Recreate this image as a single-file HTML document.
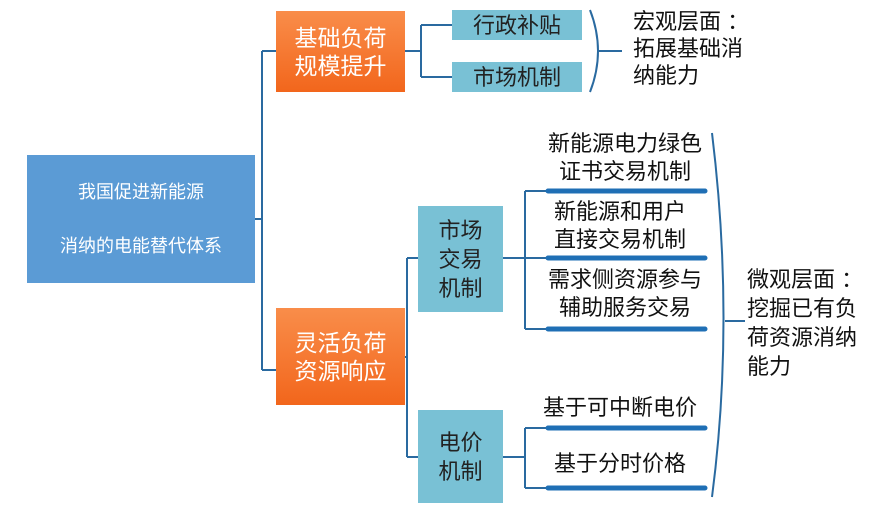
<!DOCTYPE html>
<html><head><meta charset="utf-8"><style>
body{margin:0;width:874px;height:508px;background:#fff;position:relative;overflow:hidden;font-family:"Liberation Sans","Noto Sans CJK SC",sans-serif}
.b{position:absolute;display:flex;align-items:center;justify-content:center;text-align:center}
.o{background:linear-gradient(#f98d4a,#f2661c);color:#fff;font-size:23px;line-height:28px}
.t{background:#79c1d5;color:#222;font-size:22px;line-height:29px}
.l{position:absolute;font-size:22px;line-height:28px;color:#111;text-align:center;white-space:nowrap}
</style></head><body>
<svg width="874" height="508" style="position:absolute;left:0;top:0" fill="none" stroke="#2a6aa0" stroke-width="2">
<path d="M255 219H262M262 51V370M262 51H276M262 370H276"/>
<path d="M405 51H421M421 25V77M421 25H452M421 77H452"/>
<path d="M590 10Q606 51 590 92M599 51H622"/>
<path d="M405 357H407M407 258V457M407 258H418M407 457H418"/>
<path d="M503 258H525M525 191V329M525 191H546M525 258H546M525 329H546"/>
<path d="M503 457H525M525 428V488M525 428H546M525 488H546"/>
<path d="M712 133Q735 321 712 497M725 321H745"/>
<g stroke="#1f6fb5" stroke-width="5" stroke-linecap="round">
<path d="M548 191H705M548 258H705M548 329H705M548 428H705M548 488H705"/>
</g>
</svg>
<div class="b" style="left:27px;top:155px;width:228px;height:128px;background:#5b9bd5;color:#fff;font-size:18px;line-height:54px;flex-direction:column">我国促进新能源<br>消纳的电能替代体系</div>
<div class="b o" style="left:276px;top:11px;width:129px;height:81px">基础负荷<br>规模提升</div>
<div class="b o" style="left:276px;top:308px;width:129px;height:97px">灵活负荷<br>资源响应</div>
<div class="b t" style="left:452px;top:10px;width:130px;height:30px">行政补贴</div>
<div class="b t" style="left:452px;top:62px;width:130px;height:30px">市场机制</div>
<div class="b t" style="left:418px;top:206px;width:85px;height:106px">市场<br>交易<br>机制</div>
<div class="b t" style="left:418px;top:410px;width:85px;height:93px">电价<br>机制</div>
<div class="l" style="left:633px;top:8px;text-align:left;line-height:27px">宏观层面 ：<br>拓展基础消<br>纳能力</div>
<div class="l" style="left:540px;top:130px;width:170px">新能源电力绿色<br>证书交易机制</div>
<div class="l" style="left:540px;top:198px;width:160px">新能源和用户<br>直接交易机制</div>
<div class="l" style="left:540px;top:266px;width:170px">需求侧资源参与<br>辅助服务交易</div>
<div class="l" style="left:535px;top:394px;width:170px">基于可中断电价</div>
<div class="l" style="left:545px;top:450px;width:150px">基于分时价格</div>
<div class="l" style="left:747px;top:265px;text-align:left;line-height:29px">微观层面 ：<br>挖掘已有负<br>荷资源消纳<br>能力</div>
</body></html>
